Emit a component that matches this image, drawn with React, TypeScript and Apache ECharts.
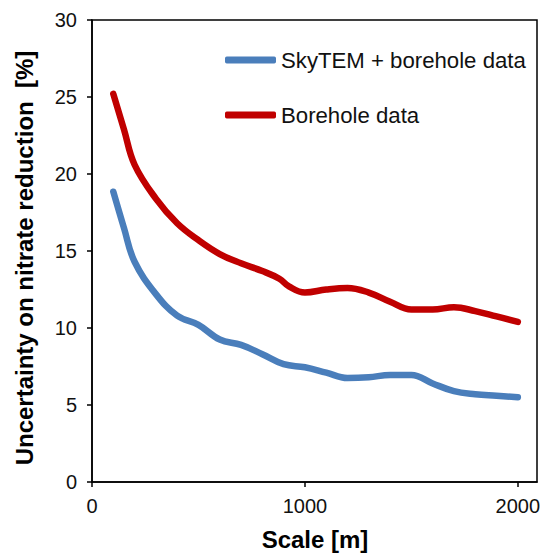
import React, { useEffect, useRef } from "react";
import * as echarts from "echarts";

const scaleM = [100, 150, 200, 300, 400, 500, 600, 700, 800, 880, 925, 1000, 1100, 1200, 1300, 1400, 1500, 1600, 1700, 1800, 1900, 2000];
const boreholeOnly = [25.2, 22.9, 20.6, 18.4, 16.8, 15.7, 14.8, 14.2, 13.7, 13.2, 12.7, 12.3, 12.5, 12.6, 12.3, 11.7, 11.2, 11.2, 11.35, 11.1, 10.75, 10.4];
const skytemScale = [100, 150, 200, 300, 400, 500, 600, 700, 800, 900, 1000, 1100, 1200, 1300, 1400, 1500, 1600, 1700, 1800, 1900, 2000];
const skytemBorehole = [18.85, 16.5, 14.3, 12.2, 10.8, 10.2, 9.25, 8.9, 8.3, 7.65, 7.45, 7.1, 6.75, 6.8, 6.95, 6.95, 6.4, 5.9, 5.7, 5.6, 5.5];
const seriesNames = ["SkyTEM + borehole data", "Borehole data"];
const xTitle = "Scale [m]";
const yTitle = "Uncertainty on nitrate reduction  [%]";

const FONT = "'Liberation Sans', Arial, sans-serif";

export default function App() {
  const ref = useRef<HTMLDivElement>(null);
  useEffect(() => {
    if (!ref.current) return;
    const chart = echarts.init(ref.current, null, { renderer: "svg" });
    chart.setOption({
      animation: false,
      textStyle: { fontFamily: FONT },
      grid: {
        left: 92,
        right: 8,
        top: 20,
        bottom: 71,
        show: true,
        borderColor: "#000",
        borderWidth: 1.5,
        backgroundColor: "transparent",
      },
      legend: {
        orient: "vertical",
        left: 220,
        top: 42,
        itemWidth: 51,
        itemHeight: 7,
        itemGap: 29,
        icon: "roundRect",
        textStyle: { fontSize: 22.2, color: "#111", fontFamily: FONT, lineHeight: 26 },
        data: seriesNames,
      },
      xAxis: {
        type: "value",
        min: 0,
        max: 2090,
        interval: 1000,
        splitLine: { show: false },
        axisLine: { lineStyle: { color: "#000", width: 1.5 } },
        axisTick: { show: true, length: 5, lineStyle: { color: "#000", width: 1.5 } },
        axisLabel: { fontSize: 20, color: "#111", margin: 14, fontFamily: FONT, formatter: (v: number) => String(v) },
      },
      yAxis: {
        type: "value",
        min: 0,
        max: 30,
        interval: 5,
        splitLine: { show: false },
        axisLine: { show: true, lineStyle: { color: "#000", width: 1.5 } },
        axisTick: { show: true, length: 5, lineStyle: { color: "#000", width: 1.5 } },
        axisLabel: { fontSize: 20, color: "#111", margin: 15, fontFamily: FONT },
      },
      graphic: [
        {
          type: "text",
          x: 315,
          y: 539,
          style: {
            text: xTitle,
            font: `bold 24px ${FONT}`,
            fill: "#000",
            textAlign: "center",
            textVerticalAlign: "middle",
          },
        },
        {
          type: "text",
          x: 24,
          y: 258,
          rotation: Math.PI / 2,
          style: {
            text: yTitle,
            font: `bold 24px ${FONT}`,
            fill: "#000",
            textAlign: "center",
            textVerticalAlign: "middle",
          },
        },
      ],
      series: [
        {
          name: seriesNames[0],
          type: "line",
          smooth: 0.4,
          showSymbol: false,
          symbol: "none",
          color: "#4A7EBB",
          lineStyle: { color: "#4A7EBB", width: 6.5, cap: "round", join: "round" },
          data: skytemScale.map((x, i) => [x, skytemBorehole[i]]),
        },
        {
          name: seriesNames[1],
          type: "line",
          smooth: 0.4,
          showSymbol: false,
          symbol: "none",
          color: "#C00000",
          lineStyle: { color: "#C00000", width: 6.5, cap: "round", join: "round" },
          data: scaleM.map((x, i) => [x, boreholeOnly[i]]),
        },
      ],
    });
    return () => chart.dispose();
  }, []);
  return <div ref={ref} style={{ width: 545, height: 553, position: "absolute", left: 0, top: 0 }} />;
}
